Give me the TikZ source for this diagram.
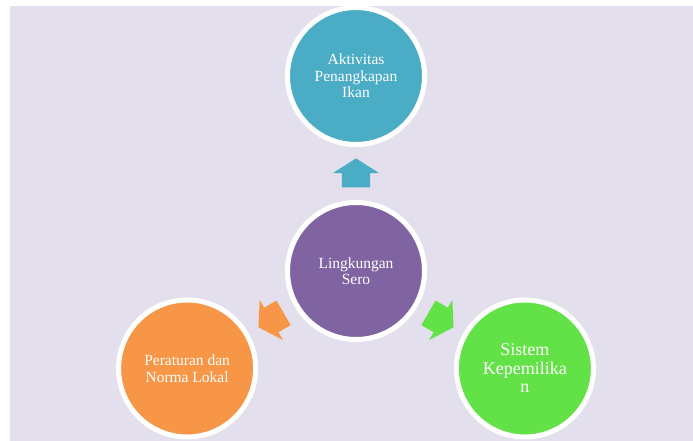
\documentclass[tikz,border=0pt]{standalone}
\usepackage{fontspec}
\setmainfont{Liberation Serif}
\usepackage{tikz}
\usetikzlibrary{shapes.arrows,positioning,calc}
\definecolor{bgc}{RGB}{228,223,236}
\definecolor{seroc}{RGB}{128,100,162}
\definecolor{ikanc}{RGB}{75,172,198}
\definecolor{aturc}{RGB}{247,150,70}
\definecolor{milikc}{RGB}{99,226,72}

\begin{document}
\begin{tikzpicture}[
  x=1pt,y=1pt,
  node distance=195pt,
  on grid,
  bub/.style={circle,draw=white,line width=5pt,minimum size=137pt,inner sep=0pt,align=center,text=white,font=\fontsize{15.5}{16.5}\selectfont},
  arr/.style={single arrow,minimum height=29pt,single arrow head extend=9pt,single arrow tip angle=115,inner xsep=0pt,inner ysep=14pt}
]
\useasboundingbox (0,0) rectangle (693,441);
\fill[bgc] (10,0) rectangle (693,435);
\node[bub,fill=seroc] (sero) at (356,170) {Lingkungan\\Sero};
\node[bub,fill=ikanc,above=of sero] (ikan) {Aktivitas\\Penangkapan\\Ikan};
\node[bub,fill=aturc,below left=97.5pt and 168.9pt of sero] (atur) {Peraturan dan\\Norma Lokal};
\node[bub,fill=milikc,below right=97.5pt and 168.9pt of sero,font=\fontsize{18}{18.5}\selectfont] (milik) {Sistem\\Kepemilika\\n};
\node[arr,fill=ikanc,rotate=90] (up) at ($(sero)!0.48!(ikan)$) {};
\node[arr,fill=aturc,rotate=210] (left) at ($(sero)!0.48!(atur)$) {};
\node[arr,fill=milikc,rotate=-30] (right) at ($(sero)!0.48!(milik)$) {};
\end{tikzpicture}
\end{document}
